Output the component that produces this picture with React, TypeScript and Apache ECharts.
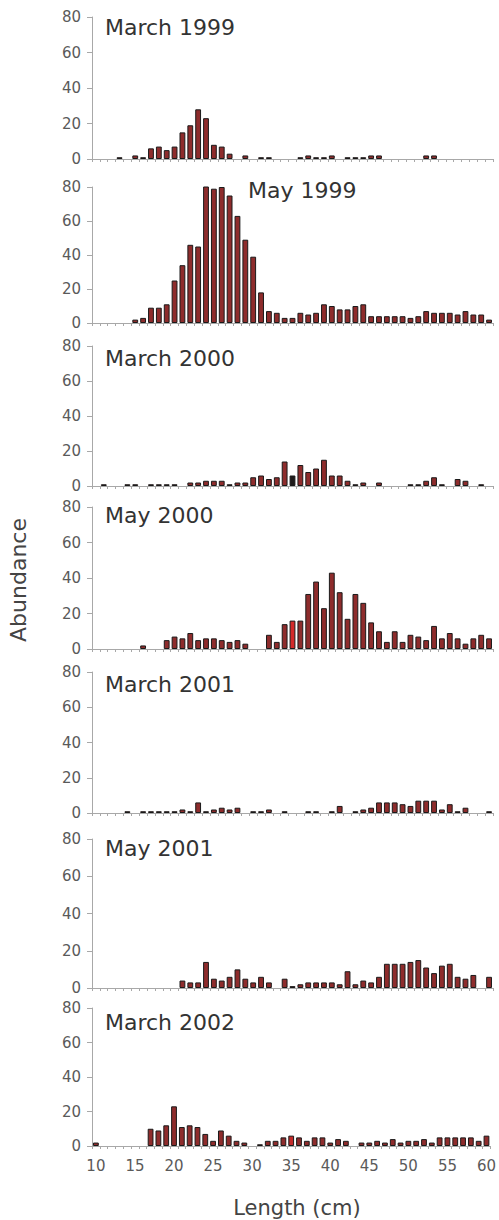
import React, { useEffect, useRef } from "react";
import * as echarts from "echarts";

const lengths = [
  "10", "11", "12", "13", "14", "15", "16", "17", "18", "19",
  "20", "21", "22", "23", "24", "25", "26", "27", "28", "29",
  "30", "31", "32", "33", "34", "35", "36", "37", "38", "39",
  "40", "41", "42", "43", "44", "45", "46", "47", "48", "49",
  "50", "51", "52", "53", "54", "55", "56", "57", "58", "59", "60",
];

const N = null;
// index 0 = 10 cm ... index 50 = 60 cm
const march1999 = [
  N, N, N, 1, N, 2, 1, 6, 7, 5,
  7, 15, 19, 28, 23, 8, 7, 3, N, 2,
  N, 1, 1, N, N, N, 1, 2, 1, 1,
  2, N, 1, 1, 1, 2, 2, N, N, N,
  N, N, 2, 2, N, N, N, N, N, N, N,
];
const may1999 = [
  N, N, N, N, N, 2, 3, 9, 9, 11,
  25, 34, 46, 45, 81, 79, 80, 75, 63, 49,
  39, 18, 7, 6, 3, 3, 6, 5, 6, 11,
  10, 8, 8, 10, 11, 4, 4, 4, 4, 4,
  3, 4, 7, 6, 6, 6, 5, 7, 5, 5, 2,
];
const march2000 = [
  N, 1, N, N, 1, 1, N, 1, 1, 1,
  1, N, 2, 2, 3, 3, 3, 1, 2, 2,
  5, 6, 4, 5, 14, 6, 12, 8, 10, 15,
  6, 6, 3, 1, 2, N, 2, N, N, N,
  1, 1, 3, 5, 1, N, 4, 3, N, 1, N,
];
const may2000 = [
  N, N, N, N, N, N, 2, N, N, 5,
  7, 6, 9, 5, 6, 6, 5, 4, 5, 3,
  N, N, 8, 4, 14, 16, 16, 31, 38, 23,
  43, 32, 17, 31, 26, 15, 10, 4, 10, 4,
  8, 7, 5, 13, 6, 9, 6, 3, 6, 8, 6,
];
const march2001 = [
  N, N, N, N, 1, N, 1, 1, 1, 1,
  1, 2, 1, 6, 1, 2, 3, 2, 3, N,
  1, 1, 2, N, 1, N, N, 1, 1, N,
  1, 4, N, 1, 2, 3, 6, 6, 6, 5,
  4, 7, 7, 7, 2, 5, 1, 3, N, N, 1,
];
const may2001 = [
  N, N, N, N, N, N, N, N, N, N,
  N, 4, 3, 3, 14, 5, 4, 6, 10, 5,
  3, 6, 3, N, 5, 1, 2, 3, 3, 3,
  3, 2, 9, 2, 4, 3, 6, 13, 13, 13,
  14, 15, 11, 8, 12, 13, 6, 5, 7, N, 6,
];
const march2002 = [
  2, N, N, N, N, N, N, 10, 9, 12,
  23, 11, 12, 11, 7, 3, 9, 6, 3, 2,
  N, 1, 3, 3, 5, 6, 5, 3, 5, 5,
  2, 4, 3, N, 2, 2, 3, 2, 4, 2,
  3, 3, 4, 2, 5, 5, 5, 5, 5, 3, 6,
];

const panelNames = [
  "March 1999", "May 1999", "March 2000", "May 2000",
  "March 2001", "May 2001", "March 2002",
];
const panelData = [march1999, may1999, march2000, may2000, march2001, may2001, march2002];

const yTicks = [0, 20, 40, 60, 80];

// layout (style only)
const gridTops = [17, 187, 346, 507, 672, 839, 1008];
const gridHeights = [142, 136, 140, 142, 141, 149, 138];
const titlePos = [
  [105, 27], [248, 190], [105, 358], [105, 515], [105, 684], [105, 848], [105, 1022],
];
const highlight: Record<string, string> = {
  "2-25": "#1e1a1a",
  "3-25": "#d42a2a",
  "6-25": "#c42a2a",
};

const FONT = "DejaVu Sans";
const BAR = "#8e2c2c";

export default function App() {
  const ref = useRef<HTMLDivElement>(null);
  useEffect(() => {
    if (!ref.current) return;
    const chart = echarts.init(ref.current, undefined, { renderer: "svg" });
    const last = panelData.length - 1;
    const grid = panelData.map((_, i) => ({
      left: 92,
      width: 401,
      top: gridTops[i],
      height: gridHeights[i],
      containLabel: false,
    }));
    const xAxis = panelData.map((_, i) => ({
      type: "category",
      gridIndex: i,
      data: lengths,
      axisLine: { show: true, lineStyle: { color: "#a8a8a8", width: 1 } },
      axisTick: { show: true, interval: 0, length: 3, lineStyle: { color: "#a8a8a8" } },
      axisLabel: {
        show: i === last,
        interval: 4,
        margin: 12,
        fontFamily: FONT,
        fontSize: 15,
        color: "#5a5a5a",
      },
      splitLine: { show: false },
    }));
    const yAxis = panelData.map((_, i) => ({
      type: "value",
      gridIndex: i,
      min: yTicks[0],
      max: yTicks[yTicks.length - 1],
      interval: yTicks[1] - yTicks[0],
      axisLine: { show: true, lineStyle: { color: "#a8a8a8", width: 1 } },
      axisTick: { show: true, length: 5, lineStyle: { color: "#a8a8a8" } },
      axisLabel: { margin: 11, fontFamily: FONT, fontSize: 15, color: "#5a5a5a" },
      splitLine: { show: false },
    }));
    const series = panelData.map((arr, i) => ({
      type: "bar",
      xAxisIndex: i,
      yAxisIndex: i,
      barCategoryGap: "26%",
      itemStyle: { color: BAR, borderColor: "#1a1a1a", borderWidth: 1 },
      data: arr.map((v, j) => {
        const c = highlight[`${i}-${j}`];
        if (v === null) return "-";
        return c ? { value: v, itemStyle: { color: c } } : v;
      }),
    }));
    const graphic: any[] = panelNames.map((name, i) => ({
      type: "text",
      x: titlePos[i][0],
      y: titlePos[i][1],
      style: {
        text: name,
        font: `22px "${FONT}"`,
        fill: "#333",
        verticalAlign: "middle",
        align: "left",
      },
    }));
    graphic.push({
      type: "text",
      x: 18,
      y: 580,
      rotation: Math.PI / 2,
      style: {
        text: "Abundance",
        font: `22px "${FONT}"`,
        fill: "#444",
        align: "center",
        verticalAlign: "middle",
      },
    });
    graphic.push({
      type: "text",
      x: 297,
      y: 1208,
      style: {
        text: "Length (cm)",
        font: `21px "${FONT}"`,
        fill: "#444",
        align: "center",
        verticalAlign: "middle",
      },
    });
    chart.setOption({
      animation: false,
      backgroundColor: "#ffffff",
      grid,
      xAxis,
      yAxis,
      series,
      graphic,
    });
    return () => chart.dispose();
  }, []);
  return (
    <div
      ref={ref}
      style={{ position: "absolute", left: 0, top: 0, width: 499, height: 1220 }}
    />
  );
}
